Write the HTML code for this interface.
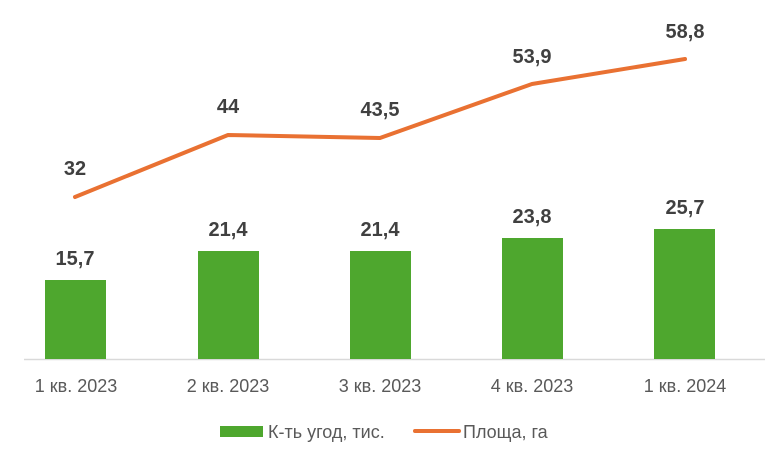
<!DOCTYPE html>
<html><head><meta charset="utf-8"><style>
body{margin:0;background:#fff}
svg{display:block}
text{font-family:"Liberation Sans","DejaVu Sans",sans-serif}
.v{font-size:20px;font-weight:bold;fill:#404040;text-anchor:middle}
.x{font-size:18px;fill:#595959;text-anchor:middle}
.l{font-size:18px;fill:#595959}
</style></head><body>
<svg width="784" height="450" viewBox="0 0 784 450">
<rect width="784" height="450" fill="#fff"/>
<line x1="24" y1="359.5" x2="765" y2="359.5" stroke="#d9d9d9" stroke-width="1.5"/>
<g fill="#4ea72e">
<rect x="45" y="280" width="61" height="79"/>
<rect x="198" y="251" width="61" height="108"/>
<rect x="350" y="251" width="61" height="108"/>
<rect x="502" y="238" width="61" height="121"/>
<rect x="654" y="229" width="61" height="130"/>
</g>
<polyline points="75,197 228,135 380,138 532,84 685,59" fill="none" stroke="#e97132" stroke-width="4" stroke-linecap="round" stroke-linejoin="round"/>
<g class="v">
<text x="75" y="265">15,7</text>
<text x="228" y="236">21,4</text>
<text x="380" y="236">21,4</text>
<text x="532" y="223">23,8</text>
<text x="685" y="214">25,7</text>
<text x="75" y="175">32</text>
<text x="228" y="113">44</text>
<text x="380" y="116">43,5</text>
<text x="532" y="63">53,9</text>
<text x="685" y="38">58,8</text>
</g>
<g class="x">
<text x="76" y="392">1 кв. 2023</text>
<text x="228" y="392">2 кв. 2023</text>
<text x="380" y="392">3 кв. 2023</text>
<text x="532" y="392">4 кв. 2023</text>
<text x="685" y="392">1 кв. 2024</text>
</g>
<rect x="220" y="426" width="43" height="11" fill="#4ea72e"/>
<text class="l" x="268" y="438">К-ть угод, тис.</text>
<line x1="415" y1="431" x2="459" y2="431" stroke="#e97132" stroke-width="4" stroke-linecap="round"/>
<text class="l" x="463" y="438">Площа, га</text>
</svg>
</body></html>
